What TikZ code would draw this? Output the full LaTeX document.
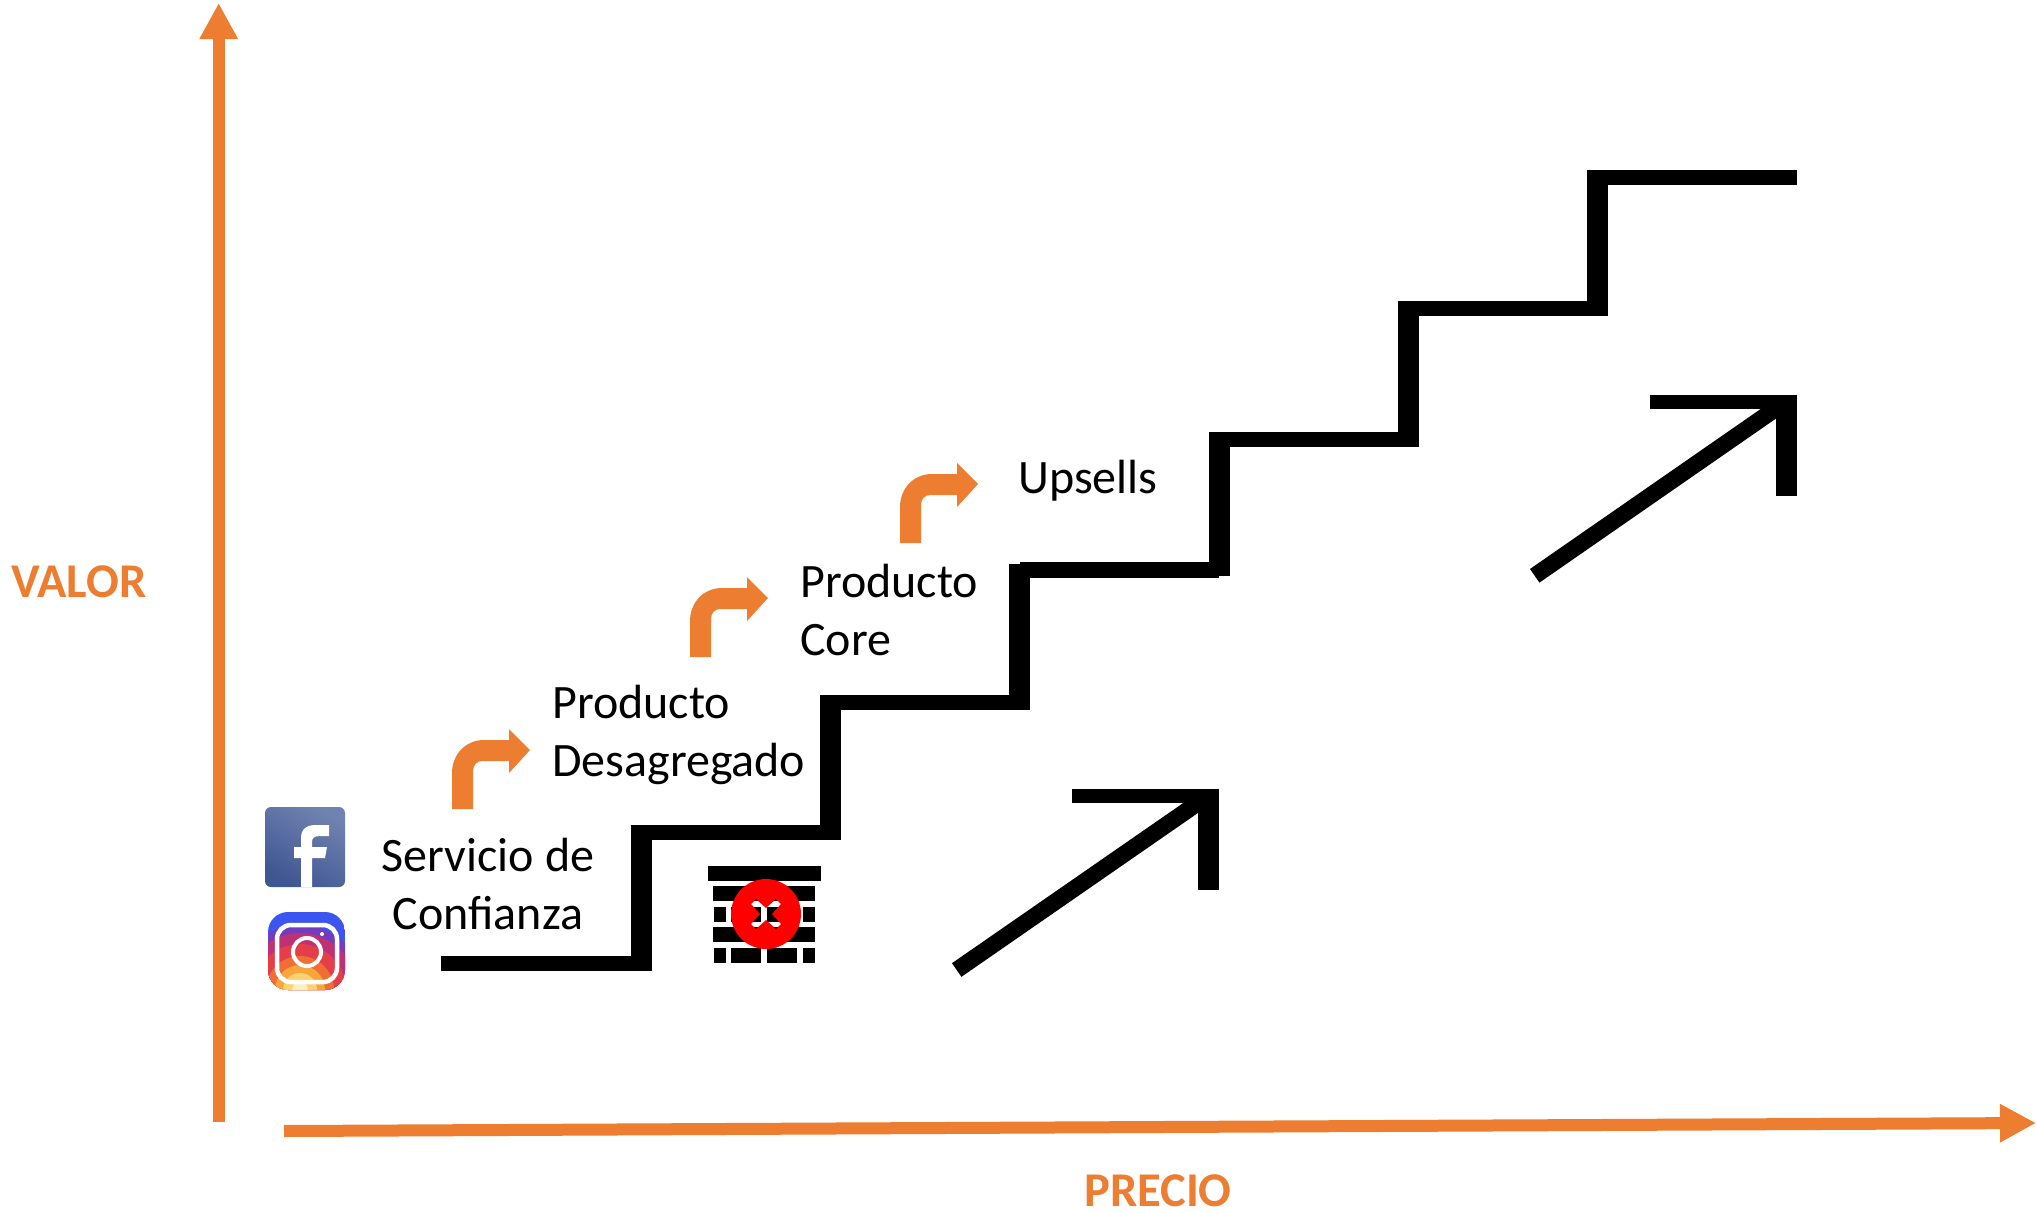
\documentclass[tikz,border=0pt]{standalone}
\usepackage{fontspec}
\setmainfont{Carlito}
\usetikzlibrary{arrows.meta}
\definecolor{axisorange}{RGB}{237,125,49}
\definecolor{fblight}{RGB}{112,130,175}
\definecolor{fbdark}{RGB}{62,86,146}
\definecolor{instablue}{RGB}{60,85,240}
\definecolor{instaviolet}{RGB}{115,60,190}
\definecolor{instacrimson}{RGB}{190,50,115}
\definecolor{instared}{RGB}{228,62,72}
\definecolor{instaflame}{RGB}{240,110,52}
\definecolor{instaorange}{RGB}{248,165,62}
\definecolor{instayellow}{RGB}{252,210,110}
\definecolor{instapale}{RGB}{255,240,190}
\tikzset{
stairflat/.style={draw=black, line width=15pt},
stairrise/.style={draw=black, line width=21pt, shorten <=-7.5pt, shorten >=-7.5pt},
arrowshaft/.style={draw=black, line width=16.6pt},
arrowflat/.style={draw=black, line width=14.5pt},
arrowrise/.style={draw=black, line width=21pt},
axisline/.style={draw=axisorange, line width=12pt, -{Triangle[length=36pt,width=36pt]}},
axislabel/.style={text=axisorange, inner sep=0pt, font=\fontsize{48.5}{50}\selectfont\bfseries},
steplabel/.style={font=\fontsize{48}{58}\selectfont, align=left, inner sep=0pt},
brick/.style={fill=black},
bentarrow/.pic={
    \fill[axisorange] (0,0)--(0,-36) .. controls (0,-54) and (13,-69) .. (32,-69)
        --(57,-69)--(57,-80)--(78,-59)--(57,-36)--(57,-48)--(30,-48)
        .. controls (25,-48) and (21,-44) .. (21,-38)--(21,0)--cycle;
},
}

\begin{document}
\begin{tikzpicture}[x=1pt, y=-1pt]
    \useasboundingbox (0,0) rectangle (2036,1211);

    %axes
    \coordinate (valor0) at (218.7,1122);
    \coordinate (valor1) at (218.7,3);
    \coordinate (precio0) at (284,1131);
    \coordinate (precio1) at (2036,1123);
    \draw[axisline] (valor0)--(valor1);
    \draw[axisline] (precio0)--(precio1);
    \node[axislabel] (valor) at (79,582) {VALOR};
    \node[axislabel] (precio) at (1158,1191) {PRECIO};

    %stairs
    \coordinate (s0) at (441,963);
    \coordinate (s1) at (641,963);
    \coordinate (s2) at (641,832);
    \coordinate (s3) at (830,832);
    \coordinate (s4) at (830,702);
    \coordinate (s5) at (1019.5,702);
    \coordinate (s6) at (1019.5,570);
    \coordinate (s7) at (1219,570);
    \coordinate (s8) at (1219,439);
    \coordinate (s9) at (1408,439);
    \coordinate (s10) at (1408,308);
    \coordinate (s11) at (1597,308);
    \coordinate (s12) at (1597,177);
    \coordinate (s13) at (1797,177);

    %line flat
    \draw[stairflat] (s0)--(s1);
    \draw[stairflat] (s2)--(s3);
    \draw[stairflat] (s4)--(s5);
    \draw[stairflat, line width=16.5pt] (s6)--(s7);
    \draw[stairflat] (s8)--(s9);
    \draw[stairflat] (s10)--(s11);
    \draw[stairflat] (s12)--(s13);

    %line up
    \draw[stairrise] (s1)--(s2);
    \draw[stairrise] (s3)--(s4);
    \draw[stairrise, shorten >=-6pt] (s5)--(s6);
    \draw[stairrise, shorten <=-6pt] (s7)--(s8);
    \draw[stairrise] (s9)--(s10);
    \draw[stairrise] (s11)--(s12);

    %black arrows
    \coordinate (a0) at (956.7,970);
    \coordinate (a1) at (1205,798);
    \coordinate (a2) at (1071.7,796);
    \coordinate (a3) at (1219,796);
    \coordinate (a4) at (1208.5,789);
    \coordinate (a5) at (1208.5,890);
    \draw[arrowshaft] (a0)--(a1);
    \draw[arrowflat] (a2)--(a3);
    \draw[arrowrise] (a4)--(a5);

    \coordinate (b0) at (1534.7,575.8);
    \coordinate (b1) at (1782.7,403.8);
    \coordinate (b2) at (1650,402);
    \coordinate (b3) at (1797.3,402);
    \coordinate (b4) at (1786.7,395);
    \coordinate (b5) at (1786.7,496);
    \draw[arrowshaft] (b0)--(b1);
    \draw[arrowflat] (b2)--(b3);
    \draw[arrowrise] (b4)--(b5);

    %orange arrows
    \pic (turn1) at (452,809) {bentarrow};
    \pic (turn2) at (690,657) {bentarrow};
    \pic (turn3) at (900,543) {bentarrow};

    %labels
    \node[steplabel, align=center] (servicio) at (488,884) {Servicio de\\Confianza};
    \node[steplabel, anchor=west] (desagregado) at (552,735) {Producto\\Desagregado};
    \node[steplabel, anchor=west] (core) at (800,610) {Producto\\Core};
    \node[steplabel, anchor=west] (upsells) at (1018,481) {Upsells};

    %facebook
    \shade[left color=fblight, right color=fbdark, shading angle=-30, rounded corners=6pt] (265,807) rectangle (345,887);
    \fill[white] (301,887)--(301,858)--(294,858)--(294,847)--(301,847)--(301,838)
        .. controls (301,828) and (308,825) .. (316,825)--(329,825)--(329,836)--(320,836)
        .. controls (314,836) and (312,838) .. (312,842)--(312,847)--(327,847)--(325,858)
        --(312,858)--(312,887)--cycle;

    %instagram
    \begin{scope}
        \clip[rounded corners=20pt] (268,912) rectangle (345,990);
        \fill[instablue] (268,912) rectangle (345,990);
        \fill[instaviolet] (300,990) circle (65);
        \fill[instacrimson] (300,990) circle (57);
        \fill[instared] (300,990) circle (46);
        \fill[instaflame] (300,990) circle (34);
        \fill[instaorange] (300,990) circle (25);
        \fill[instayellow] (300,990) circle (17);
        \fill[instapale] (300,990) circle (8);
    \end{scope}
    \draw[white, line width=4.5pt, rounded corners=14pt] (277,925) rectangle (337,982);
    \draw[white, line width=4pt] (307,952) circle (14);
    \fill[white] (322,934) circle (2);

    %bricks
    \fill[brick] (708,866) rectangle (821,881);
    \fill[brick] (713,886) rectangle (815,901);
    \fill[brick] (714,907) rectangle (726,922);
    \fill[brick] (731,907) rectangle (761,922);
    \fill[brick] (767,907) rectangle (797,922);
    \fill[brick] (803,907) rectangle (815,922);
    \fill[brick] (713,927) rectangle (815,942);
    \fill[brick] (714,948) rectangle (726,963);
    \fill[brick] (731,948) rectangle (761,963);
    \fill[brick] (767,948) rectangle (797,963);
    \fill[brick] (803,948) rectangle (815,963);

    %red circle
    \fill[red, even odd rule] (766,914) circle (35)
        (766,908)--(776,899)--(781,904)--(772,914)--(781,924)--(776,929)--(766,920)
        --(756,929)--(751,924)--(760,914)--(751,904)--(756,899)--cycle;
\end{tikzpicture}
\end{document}
